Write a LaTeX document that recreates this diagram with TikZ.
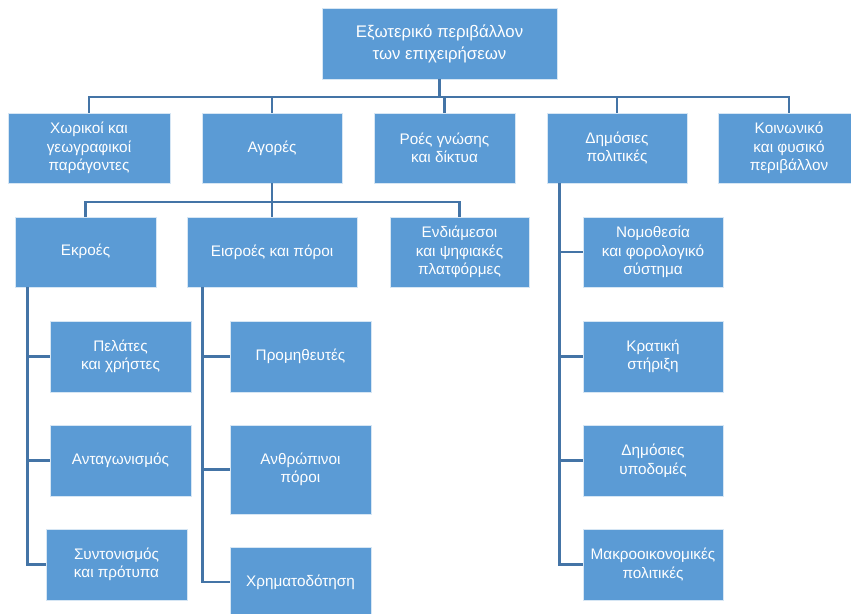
\documentclass[tikz,border=0pt]{standalone}
\usepackage{fontspec}
\setmainfont{Liberation Sans}
\definecolor{boxblue}{HTML}{5B9BD5}
\definecolor{linkblue}{HTML}{4474A6}
\begin{document}
\begin{tikzpicture}[x=1pt,y=-1pt,
  box/.style={rectangle, fill=boxblue, draw=white!75!boxblue, line width=0.6pt,
    text=white, align=center, inner sep=0pt, minimum width=141pt, minimum height=70pt,
    font=\fontsize{15.3}{18.5}\selectfont},
  link/.style={draw=linkblue, line width=2.5pt}]
\useasboundingbox (0,0) rectangle (851,613);
\clip (0,0) rectangle (851,613);
% level 1
\node[box, minimum width=235pt, minimum height=71pt, font=\fontsize{16.8}{22}\selectfont] (top) at (439.5,43.5) {Εξωτερικό περιβάλλον\\των επιχειρήσεων};
% level 2
\node[box, minimum width=162pt] (xor) at (89,148) {Χωρικοί και\\γεωγραφικοί\\παράγοντες};
\node[box, minimum width=140pt] (agor) at (272,148) {Αγορές};
\node[box] (roes) at (444.5,148) {Ροές γνώσης\\και δίκτυα};
\node[box, minimum width=140pt] (dim) at (617,148) {Δημόσιες\\πολιτικές};
\node[box, minimum width=142pt] (koin) at (789,148) {Κοινωνικό\\και φυσικό\\περιβάλλον};
% level 3
\node[box] (ekr) at (85.5,252) {\raisebox{4pt}{Εκροές}};
\node[box, minimum width=170pt] (eis) at (272,252) {Εισροές και πόροι};
\node[box, minimum width=139pt] (endi) at (459.5,252) {Ενδιάμεσοι\\και ψηφιακές\\πλατφόρμες};
\node[box, minimum width=140pt] (nom) at (653,252) {Νομοθεσία\\και φορολογικό\\σύστημα};
% level 4
\node[box, minimum height=71pt] (pel) at (120.5,356.5) {Πελάτες\\και χρήστες};
\node[box, minimum height=71pt] (ant) at (120.5,460.5) {Ανταγωνισμός};
\node[box, minimum height=71pt] (syn) at (116.5,564.5) {Συντονισμός\\και πρότυπα};
\node[box, minimum height=71pt] (prom) at (300.5,356.5) {Προμηθευτές};
\node[box, minimum height=89pt] (anth) at (300.5,469.5) {Ανθρώπινοι\\πόροι};
\node[box] (xrim) at (300.5,582) {Χρηματοδότηση};
\node[box, minimum width=140pt, minimum height=71pt] (krat) at (653,356.5) {Κρατική\\στήριξη};
\node[box, minimum width=140pt, minimum height=71pt] (dimyp) at (653,460.5) {Δημόσιες\\υποδομές};
\node[box, minimum width=140pt, minimum height=71pt] (makro) at (653,564.5) {Μακροοικονομικές\\πολιτικές};
% buses
\coordinate (bus1) at (0,97);
\coordinate (bus2) at (0,202);
\foreach \c in {xor,agor,roes,dim,koin}
  \draw[link] (top.south) -- (top.south |- bus1) -| (\c.north);
\foreach \c in {ekr,eis,endi}
  \draw[link] (agor.south) -- (agor.south |- bus2) -| (\c.north);
\foreach \c in {pel,ant,syn}
  \draw[link] ([xshift=13pt]ekr.south west) |- (\c.west);
\foreach \c in {prom,anth,xrim}
  \draw[link] ([xshift=16pt]eis.south west) |- (\c.west);
\foreach \c in {nom,krat,dimyp,makro}
  \draw[link] ([xshift=13pt]dim.south west) |- (\c.west);
\end{tikzpicture}
\end{document}
